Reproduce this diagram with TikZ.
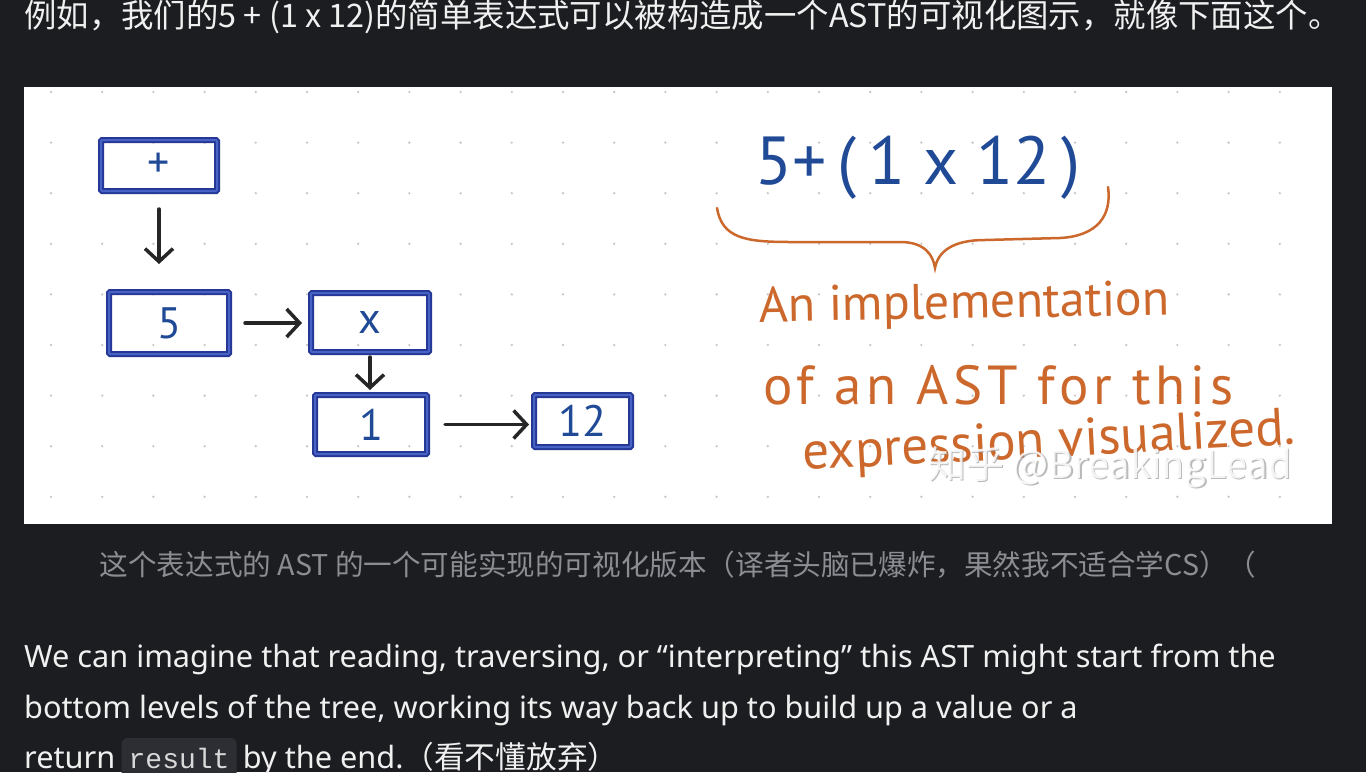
\documentclass[tikz,border=0pt]{standalone}
\usepackage{fontspec}
\usetikzlibrary{arrows.meta}
\newfontfamily\cjk{Noto Sans CJK SC}
\newfontfamily\hand{PT Sans}
\newfontfamily\ui{Noto Sans}
\newfontfamily\mono{Liberation Mono}
\definecolor{page}{RGB}{28,29,33}
\definecolor{ink}{RGB}{38,56,150}
\definecolor{inklight}{RGB}{72,98,198}
\definecolor{pen}{RGB}{32,74,150}
\definecolor{marker}{RGB}{204,104,44}
\definecolor{capgray}{RGB}{140,141,146}
\definecolor{codebg}{RGB}{45,46,51}
\begin{document}
\begin{tikzpicture}[x=1pt, y=-1pt,
        box/.style={draw=ink, line width=2pt, double=inklight, double distance=2pt,
            rounded corners=1pt, inner sep=0pt, text=pen, font=\hand\fontsize{44}{44}\selectfont},
        arr/.style={draw=black!85, line width=3.5pt, line cap=round,
            -{Straight Barb[length=13pt, width=28pt]}},
        note/.style={text=marker, font=\hand\fontsize{50}{50}\selectfont, anchor=base west, inner sep=0pt},
        body/.style={text=white!94!black, font=\ui\fontsize{30.7}{30.7}\selectfont, anchor=base west, inner sep=0pt}
    ]
    \useasboundingbox (0,0) rectangle (1366,772);
    \fill[page] (0,0) rectangle (1366,772);

    \node[body, font=\cjk\fontsize{32.4}{32.4}\selectfont] (intro) at (24,27)
        {例如，我们的5 + (1 x 12)的简单表达式可以被构造成一个AST的可视化图示，就像下面这个。};

    \fill[white] (24,87) rectangle (1332,524);
    \foreach \i in {0,...,24}
        \foreach \j in {0,...,8}
            \fill[black!22] (51+51.2*\i, 92+50.6*\j) circle (1.3);

    \node[box, minimum width=116pt, minimum height=51pt] (add) at (159,165.5) {+};
    \node[box, minimum width=120pt, minimum height=62pt] (n5) at (169,323) {5};
    \node[box, minimum width=118pt, minimum height=59pt] (mul) at (370,322.5) {x};
    \node[box, minimum width=112pt, minimum height=59pt] (n1) at (371,424.5) {1};
    \node[box, minimum width=97pt, minimum height=52pt] (n12) at (582.5,421) {12};

    \draw[arr, shorten <=17pt, shorten >=27pt] (add.south) -- (add.south |- n5.north);
    \draw[arr, shorten <=15pt, shorten >=8pt] (n5.east) -- (n5.east -| mul.west);
    \draw[arr, shorten <=4pt, shorten >=4pt] (mul.south) -- (mul.south |- n1.north);
    \draw[arr, shorten <=17pt, shorten >=4pt] (n1.east) -- (n1.east -| n12.west);

    \node[text=pen, font=\hand\fontsize{68}{68}\selectfont, inner sep=0pt] (expr) at (918,168)
        {5+\,(\,1 x 12\,)};
    \draw[marker, line width=2.5pt, line cap=round]
        (717,208) .. controls (722,238) and (745,242) .. (790,242) -- (900,242)
        .. controls (925,242) and (933,255) .. (935,268)
        .. controls (938,252) and (952,240) .. (985,240) -- (1060,238)
        .. controls (1098,236) and (1112,215) .. (1108,187);
    \node[note, rotate=1] (line1) at (759,322) {An implementation};
    \node[note, font=\hand\fontsize{55}{55}\addfontfeatures{LetterSpace=9}\selectfont] (line2) at (763,404)
        {of an AST for this};
    \node[note, rotate=3, font=\hand\fontsize{53}{53}\selectfont] (line3) at (803,470) {expression visualized.};

    \node[text=black!45, opacity=0.6, font=\cjk\fontsize{38}{38}\selectfont] at (1111.5,468.5) {知乎 @BreakingLead};
    \node[text=white, opacity=0.85, font=\cjk\fontsize{38}{38}\selectfont] (mark) at (1110,467) {知乎 @BreakingLead};

    \node[text=capgray, font=\cjk\fontsize{28.6}{28.6}\selectfont, anchor=base, inner sep=0pt] (cap) at (678,575)
        {这个表达式的 AST 的一个可能实现的可视化版本（译者头脑已爆炸，果然我不适合学CS）（};

    \node[body] (p1) at (24,667)
        {We can imagine that reading, traversing, or “interpreting” this AST might start from the};
    \node[body] (p2) at (24,718)
        {bottom levels of the tree, working its way back up to build up a value or a};
    \node[body] (p3) at (24,768) {return};
    \node[anchor=base west, fill=codebg, rounded corners=6pt, inner xsep=7pt, inner ysep=8pt,
        text height=22pt, text depth=5pt, text=white!85!black, font=\mono\fontsize{28}{28}\selectfont]
        (res) at ([xshift=6pt]p3.base east) {result};
    \node[body] (p3b) at ([xshift=6pt]res.base east) {by the end.{\cjk（看不懂放弃）}};
\end{tikzpicture}
\end{document}
